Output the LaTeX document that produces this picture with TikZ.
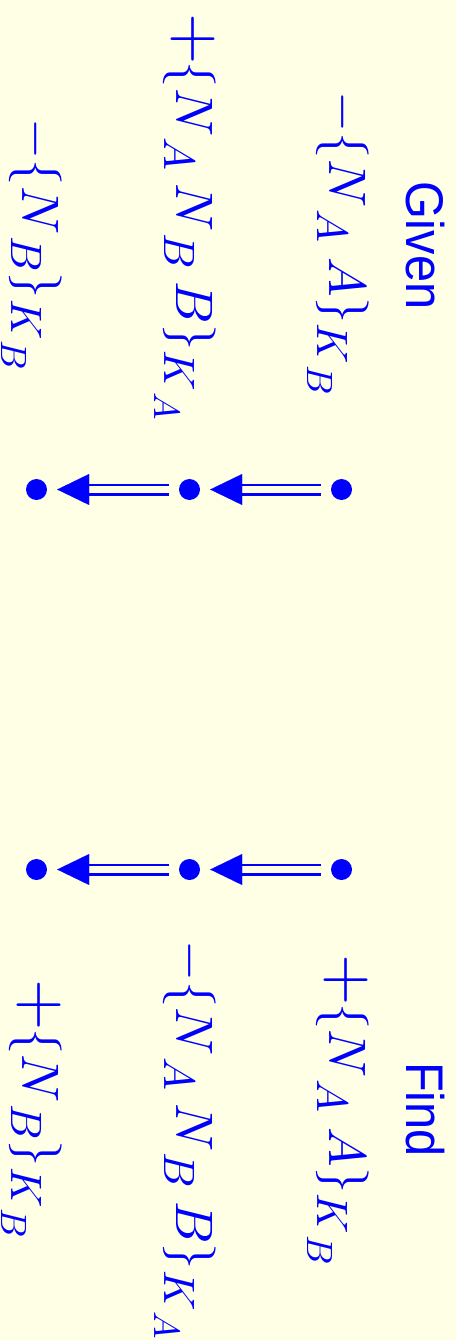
\documentclass[tikz,border=0pt]{standalone}
\usepackage{fontspec}
\newfontfamily\labelsans{Liberation Sans}
\usetikzlibrary{arrows.meta}
% italic math letters drawn from cmmi10 at every size
\DeclareFontShape{OML}{cmm}{m}{it}{<->cmmi10}{}
\definecolor{bg}{RGB}{255,255,229}
\definecolor{ink}{RGB}{0,0,255}
% message formulas are set in \Huge and enlarged
\newcommand{\msg}[1]{\scalebox{2.12}{\Huge$#1$}}
\newcommand{\bigsign}[1]{\scalebox{6.6}{$#1$}}
% subscripts set a little away from their italic letter
\newcommand{\sba}[1]{_{\mkern3mu #1}}
\newcommand{\sbb}[1]{_{\mkern2mu #1}}
\tikzset{
  lbl/.style={rotate=-90, anchor=base west, inner sep=0pt, outer sep=0pt,
    text=ink},
  head/.style={rotate=-90, anchor=base west, inner sep=0pt, outer sep=0pt,
    text=ink, font=\labelsans\fontsize{53}{60}\selectfont},
  dot/.style={circle, fill=ink, draw=none, inner sep=0pt, minimum size=21pt},
  shaft/.style={draw=ink, double=bg, line width=2.5pt, double distance=7pt,
    shorten <=10pt, shorten >=41pt},
  tip/.style={draw=bg, line width=0.2pt, shorten <=10pt, shorten >=10pt,
    -{Triangle[length=32pt, width=31pt, color=ink]}},
}
\begin{document}
\begin{tikzpicture}[x=1pt,y=-1pt]
\useasboundingbox[fill=bg] (0,0) rectangle (456,1340);

% given messages
\node[head] (given) at (406,182) {\scalebox{0.92}[1]{Given}};
\node[lbl] (gm1) at (329,92) {\msg{-\{N\sba{A}\;A\}_{K\sbb{B}}}};
\node[lbl] (gm2) at (176,13.3) {\bigsign{+}\msg{\mkern-1mu\{N\sba{A}\:N\sba{B}\:B\}_{K\sbb{A}}}};
\node[lbl] (gm3) at (23,119) {\msg{-\{N\sba{B}\}_{K\sbb{B}}}};

% first chain
\node[dot] (g1) at (36.5,489.5) {};
\node[dot] (g2) at (189.5,489.5) {};
\node[dot] (g3) at (341.5,489.5) {};
\draw[shaft] (g3) -- (g2);
\draw[tip] (g3) -- (g2);
\draw[shaft] (g2) -- (g1);
\draw[tip] (g2) -- (g1);

% second chain
\node[dot] (f1) at (36.5,869.5) {};
\node[dot] (f2) at (189.5,869.5) {};
\node[dot] (f3) at (341.5,869.5) {};
\draw[shaft] (f3) -- (f2);
\draw[tip] (f3) -- (f2);
\draw[shaft] (f2) -- (f1);
\draw[tip] (f2) -- (f1);

% find messages
\node[head] (find) at (406.7,1062) {\scalebox{0.92}[1]{Find}};
\node[lbl] (fm1) at (329,954.6) {\bigsign{+}\msg{\mkern-1mu\{N\sba{A}\;A\}_{K\sbb{B}}}};
\node[lbl] (fm2) at (176,940.4) {\msg{-\{N\sba{A}\:N\sba{B}\:B\}_{K\sbb{A}}}};
\node[lbl] (fm3) at (23,979.6) {\bigsign{+}\msg{\mkern-1mu\{N\sba{B}\}_{K\sbb{B}}}};
\end{tikzpicture}
\end{document}
